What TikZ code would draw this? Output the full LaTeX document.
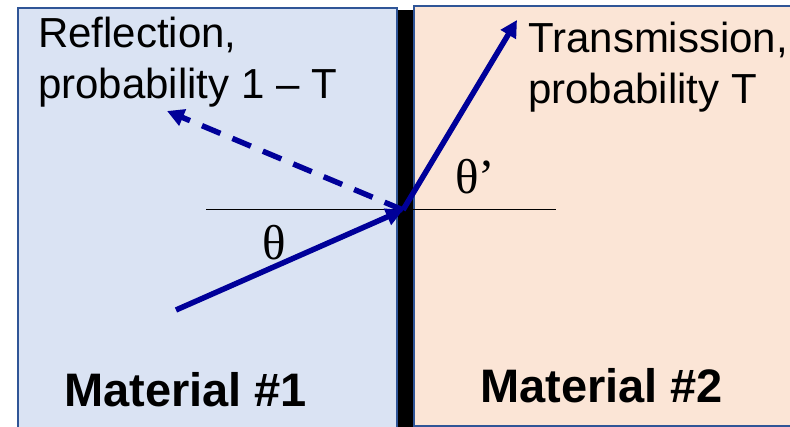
\documentclass[tikz,border=0pt]{standalone}
\usepackage{fontspec}
\setmainfont{Liberation Sans}
\newfontfamily\greekfont{Liberation Serif}
\usetikzlibrary{arrows.meta, positioning}
\definecolor{mediumone}{HTML}{DAE3F3}
\definecolor{mediumtwo}{HTML}{FBE5D6}
\definecolor{edge}{HTML}{2F5597}
\definecolor{ray}{HTML}{000099}

\begin{document}
\begin{tikzpicture}[
  x=1pt, y=1pt,
  medium/.style={draw=edge, line width=1.5pt},
  ray/.style={-{Triangle[length=17pt,width=17pt]}, line width=5.5pt, color=ray},
  label/.style={inner sep=0pt, align=left, font=\fontsize{42}{51}\selectfont},
  material/.style={inner sep=0pt, font=\fontsize{47}{50}\selectfont\bfseries},
  angle/.style={inner sep=0pt, font=\fontsize{49}{50}\selectfont\greekfont}
]
  \useasboundingbox (0,0) rectangle (790,427);
  \fill[mediumone] (18,-5) rectangle (397,419);
  \draw[medium] (18,-5) -- (18,419) -- (397,419) -- (397,-5);
  \fill[mediumtwo] (414,1) rectangle (800,421);
  \draw[medium] (800,1) -- (414,1) -- (414,421) -- (800,421);
  \fill[black] (398,-5) rectangle (413,417);

  \coordinate (hit) at (403,217);
  \coordinate (normalL) at (206,217);
  \coordinate (normalR) at (556,217);
  \coordinate (source) at (176,117);
  \coordinate (reflected) at (167,316);
  \coordinate (transmitted) at (517,407);

  \draw[line width=1pt] (normalL) -- (normalR);
  \draw[ray] (source) -- (hit);
  \draw[ray, dash pattern=on 20pt off 13pt] (hit) -- (reflected);
  \draw[ray] (hit) -- (transmitted);

  \node[label, anchor=north west] (refl) at (38,410) {Reflection,\\probability 1 -- T};
  \node[label, anchor=north west] (trans) at (528,405) {Transmission,\\probability T};
  \node[angle] (theta) at (274,184) {θ};
  \node[angle] (thetap) at (475,250) {θ’};
  \node[material, anchor=base west] (mat1) at (64,20) {Material \#1};
  \node[material, anchor=base west] (mat2) at (480,24) {Material \#2};
\end{tikzpicture}
\end{document}
